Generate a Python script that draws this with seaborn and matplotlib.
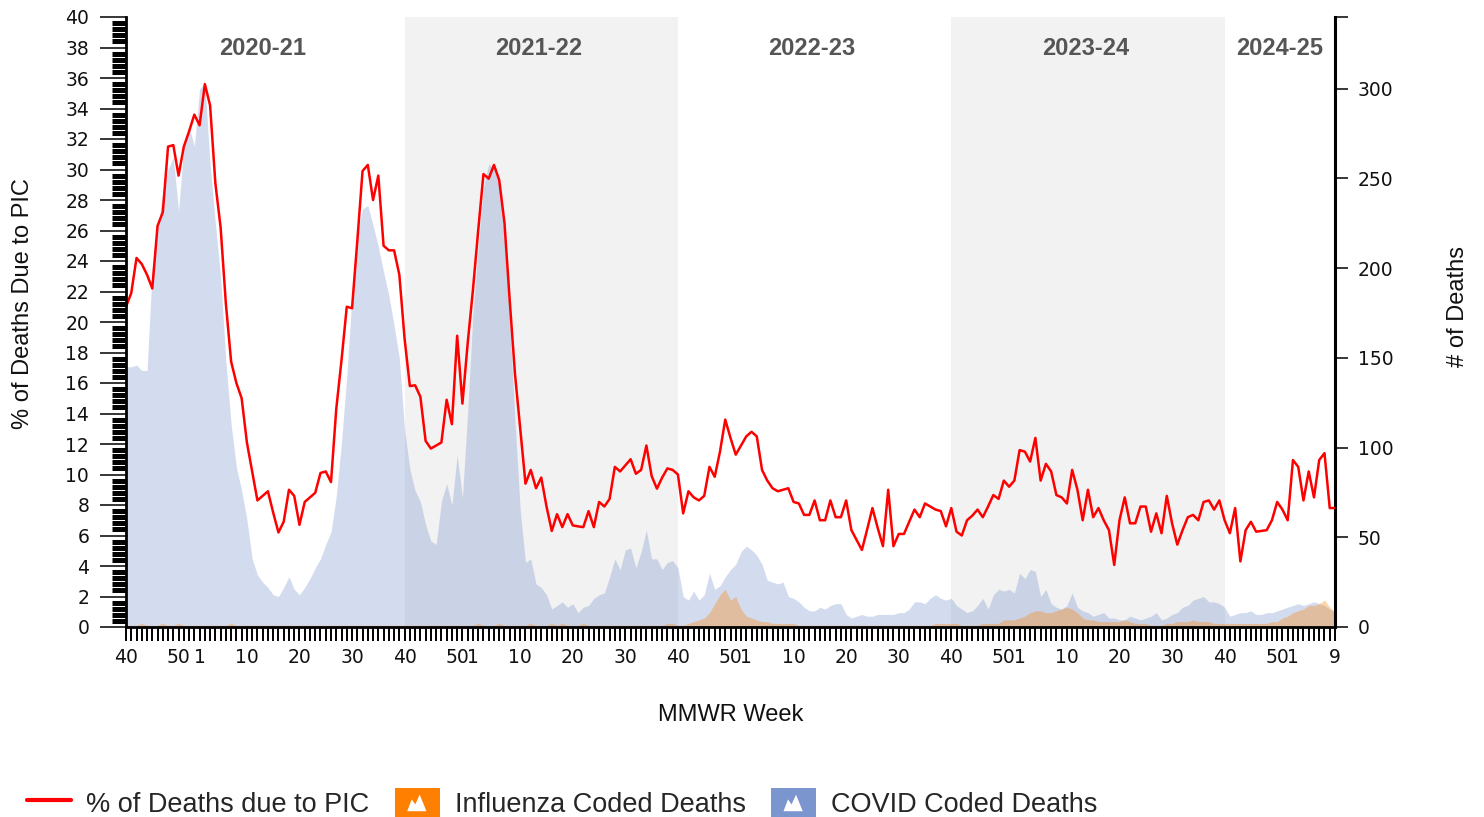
"""
Weekly pneumonia, influenza and COVID-19 (PIC) mortality, 2020-21 to 2024-25.
Red line: % of deaths due to PIC (left axis).
Shaded areas: influenza- and COVID-coded deaths (right axis).
"""

import numpy as np
import pandas as pd
import matplotlib
matplotlib.use("Agg")
import matplotlib.pyplot as plt
import matplotlib.transforms as mtransforms
import seaborn as sns
from matplotlib.ticker import MultipleLocator
from matplotlib.lines import Line2D
from matplotlib.patches import Patch, Rectangle, Polygon
from matplotlib.legend_handler import HandlerBase

# ---- Data ----------------------------------------------------------------

seasons = ["2020-21", "2021-22", "2022-23", "2023-24", "2024-25"]
season_weeks = [53, 52, 52, 52, 22]

pic_pct = [
    # 2020-21
    21.0, 21.9, 24.2, 23.8, 23.1, 22.2, 26.3, 27.2, 31.5, 31.6,
    29.6, 31.5, 32.5, 33.6, 32.9, 35.6, 34.2, 29.1, 26.2, 21.2,
    17.4, 16.0, 15.0, 12.1, 10.2, 8.3, 8.6, 8.9, 7.5, 6.2,
    6.9, 9.0, 8.6, 6.7, 8.2, 8.5, 8.8, 10.1, 10.2, 9.5,
    14.3, 17.5, 21.0, 20.9, 25.3, 29.9, 30.3, 28.0, 29.6, 25.0,
    24.7, 24.7, 23.1,
    # 2021-22
    18.9, 15.8, 15.85, 15.1, 12.2, 11.7, 11.9, 12.1, 14.9, 13.3,
    19.1, 14.65, 18.6, 22.1, 26.0, 29.7, 29.4, 30.3, 29.3, 26.5,
    21.4, 16.6, 13.0, 9.4, 10.3, 9.1, 9.8, 7.9, 6.3, 7.4,
    6.55, 7.4, 6.66, 6.6, 6.55, 7.6, 6.55, 8.2, 7.9, 8.4,
    10.5, 10.2, 10.6, 11.0, 10.05, 10.3, 11.9, 9.9, 9.07, 9.8,
    10.4, 10.3,
    # 2022-23
    10.0, 7.45, 8.9, 8.5, 8.3, 8.6, 10.5, 9.85, 11.5, 13.6,
    12.4, 11.3, 11.9, 12.5, 12.8, 12.5, 10.3, 9.6, 9.1, 8.9,
    9.0, 9.1, 8.2, 8.1, 7.35, 7.35, 8.3, 7.0, 7.0, 8.3,
    7.2, 7.2, 8.3, 6.35, 5.7, 5.05, 6.4, 7.8, 6.5, 5.3,
    9.0, 5.3, 6.1, 6.1, 6.9, 7.7, 7.2, 8.1, 7.9, 7.7,
    7.6, 6.6,
    # 2023-24
    7.8, 6.25, 6.0, 7.0, 7.3, 7.7, 7.2, 7.9, 8.65, 8.4,
    9.6, 9.2, 9.6, 11.6, 11.5, 10.85, 12.4, 9.6, 10.7, 10.2,
    8.65, 8.5, 8.1, 10.3, 9.0, 7.0, 9.0, 7.2, 7.8, 7.0,
    6.35, 4.07, 7.0, 8.5, 6.8, 6.8, 7.9, 7.9, 6.25, 7.45,
    6.15, 8.6, 6.8, 5.4, 6.35, 7.2, 7.35, 7.0, 8.2, 8.3,
    7.7, 8.3,
    # 2024-25
    7.0, 6.15, 7.8, 4.3, 6.35, 6.9, 6.25, 6.3, 6.35, 7.0,
    8.2, 7.7, 7.0, 10.95, 10.5, 8.3, 10.2, 8.5, 10.95, 11.4,
    7.8, 7.8,
]

covid_deaths = [
    # 2020-21
    145, 145, 146, 143, 143, 200, 222, 242, 255, 262,
    232, 268, 279, 268, 300, 303, 258, 225, 195, 148,
    113, 89, 76, 60, 38, 29, 25, 22, 18, 17,
    22, 28, 21, 18, 22, 27, 33, 38, 46, 53,
    73, 103, 140, 185, 220, 233, 235, 224, 212, 198,
    185, 168, 150,
    # 2021-22
    110, 88, 76, 70, 57, 48, 46, 70, 80, 68,
    96, 72, 120, 175, 212, 245, 258, 255, 246, 215,
    170, 115, 65, 36, 38, 24, 22, 18, 10, 12,
    14, 11, 13, 8, 11, 12, 16, 18, 19, 28,
    38, 32, 43, 44, 33, 42, 54, 38, 38, 32,
    36, 37,
    # 2022-23
    33, 17, 15, 20, 15, 18, 30, 21, 23, 28,
    32, 35, 42, 45, 43, 40, 35, 26, 25, 24,
    25, 17, 16, 14, 11, 9, 9, 11, 10, 12,
    13, 13, 7, 5, 6, 7, 6, 6, 7, 7,
    7, 7, 8, 8, 10, 14, 14, 13, 16, 18,
    16, 15,
    # 2023-24
    16, 12, 10, 8, 9, 12, 16, 10, 18, 21,
    20, 21, 19, 30, 27, 32, 31, 17, 21, 13,
    11, 10, 12, 19, 11, 9, 8, 6, 7, 8,
    5, 5, 4, 4, 6, 5, 4, 5, 6, 8,
    4, 5, 7, 8, 11, 12, 15, 16, 17, 14,
    14, 13,
    # 2024-25
    11, 6, 7, 8, 8, 9, 7, 7, 8, 8,
    9, 10, 11, 12, 13, 12, 13, 14, 13, 12,
    10, 9,
]

flu_deaths = [
    # 2020-21
    1, 1, 1, 2, 1, 1, 1, 2, 1, 1,
    2, 1, 1, 1, 1, 1, 1, 1, 1, 1,
    2, 1, 1, 1, 1, 1, 1, 1, 1, 1,
    1, 1, 1, 1, 1, 1, 1, 1, 1, 1,
    1, 1, 1, 1, 1, 1, 1, 1, 1, 1,
    1, 1, 1,
    # 2021-22
    1, 1, 1, 1, 1, 1, 1, 1, 1, 1,
    1, 1, 1, 1, 2, 1, 1, 1, 2, 1,
    1, 1, 1, 1, 2, 1, 1, 1, 2, 1,
    2, 1, 1, 1, 2, 1, 1, 1, 1, 1,
    1, 1, 1, 1, 1, 1, 1, 1, 1, 1,
    2, 2,
    # 2022-23
    1, 1, 2, 3, 4, 5, 8, 13, 18, 21,
    15, 17, 10, 6, 5, 4, 3, 3, 2, 2,
    2, 2, 2, 1, 1, 1, 1, 1, 1, 1,
    1, 1, 1, 1, 1, 1, 1, 1, 1, 1,
    1, 1, 1, 1, 1, 1, 1, 1, 1, 2,
    2, 2,
    # 2023-24
    2, 2, 1, 1, 1, 1, 2, 2, 2, 2,
    4, 4, 4, 5, 6, 8, 9, 9, 8, 8,
    9, 10, 11, 10, 8, 5, 4, 4, 3, 3,
    3, 3, 3, 4, 3, 2, 2, 2, 1, 1,
    1, 2, 2, 3, 3, 3, 4, 3, 3, 3,
    2, 2,
    # 2024-25
    2, 2, 2, 2, 2, 2, 2, 2, 2, 3,
    3, 5, 6, 8, 9, 10, 12, 12, 13, 15,
    11, 8,
]

labelled_weeks = [40, 50, 1, 10, 20, 30]

# ---- Build the weekly table ----------------------------------------------

mmwr_week = []
for n in season_weeks:
    last = 53 if n == 53 else 52
    weeks = list(range(40, last + 1)) + list(range(1, 40))
    mmwr_week += weeks[:n]

df = pd.DataFrame({
    "idx": np.arange(len(mmwr_week)),
    "week": mmwr_week,
    "pic": pic_pct,
    "covid": covid_deaths,
    "flu": flu_deaths,
})

season_start = np.concatenate([[0], np.cumsum(season_weeks)[:-1]])

tick_mask = df["week"].isin(labelled_weeks) | (df["idx"] == df["idx"].max())
tick_pos = df.loc[tick_mask, "idx"].tolist()
tick_lab = df.loc[tick_mask, "week"].astype(str).tolist()

# ---- Plot -----------------------------------------------------------------

sns.set_theme(style="white")
plt.rcParams["font.family"] = ["DejaVu Sans"]

W, H = 1484, 817
fig = plt.figure(figsize=(W / 100, H / 100), dpi=100)
ax = fig.add_axes([126 / W, 1 - 627 / H, (1335 - 126) / W, (627 - 17) / H])
ax2 = ax.twinx()
ax.set_zorder(ax2.get_zorder() + 1)
ax.patch.set_visible(False)

# alternate season shading
for k, (start, n) in enumerate(zip(season_start, season_weeks)):
    if k % 2 == 1:
        ax2.axvspan(start, start + n, color="#f2f2f2", lw=0, zorder=0)

covid_col = "#7b96cf"
flu_col = "#ff8000"
ax2.fill_between(df["idx"], df["covid"], color=covid_col, alpha=0.33, lw=0, zorder=1)
ax2.fill_between(df["idx"], df["flu"], color=flu_col, alpha=0.33, lw=0, zorder=2)

sns.lineplot(data=df, x="idx", y="pic", ax=ax, color="#ff0000", linewidth=1.8)

ax.set_xlim(0, df["idx"].max())
ax.set_ylim(0, 40)
ax2.set_ylim(0, 340)

# season labels
trans = mtransforms.blended_transform_factory(ax.transData, ax.transAxes)
for s, start, n in zip(seasons, season_start, season_weeks):
    ax.text(start + (n - 1) / 2, 0.948, s, transform=trans, ha="center", va="center",
            fontsize=17, fontweight="bold", color="#555555", family="Liberation Sans")

# x axis: one tick per week
ax.set_xticks(tick_pos)
ax.set_xticklabels(tick_lab)
ax.set_xticks(df["idx"], minor=True)
ax.tick_params(axis="x", which="both", bottom=True, direction="out", length=10,
               width=1.4, color="black", pad=5, labelsize=13.5, labelcolor="#111111")

# left axis
ax.set_yticks(np.arange(0, 41, 2))
ax.yaxis.set_minor_locator(MultipleLocator(0.4))
ax.tick_params(axis="y", which="major", left=True, direction="out", length=18.5,
               width=1.1, color="black", pad=8, labelsize=13.5, labelcolor="#111111")
ax.tick_params(axis="y", which="minor", left=True, direction="out", length=10,
               width=3.6, color="black")

# right axis
ax2.set_yticks([0, 50, 100, 150, 200, 250, 300, 340])
ax2.set_yticklabels(["0", "50", "100", "150", "200", "250", "300", ""])
ax2.tick_params(axis="y", which="major", right=True, left=False, direction="out",
                length=9.5, width=1.1, color="black", pad=7, labelsize=13.5,
                labelcolor="#111111")

for side in ["top", "right"]:
    ax.spines[side].set_visible(False)
for side in ["top", "left", "bottom"]:
    ax2.spines[side].set_visible(False)
ax.spines["left"].set_color("black")
ax.spines["left"].set_linewidth(2)
ax.spines["bottom"].set_color("black")
ax.spines["bottom"].set_linewidth(2)
ax2.spines["right"].set_color("black")
ax2.spines["right"].set_linewidth(2.2)

label_font = dict(fontsize=17, family="Liberation Sans", color="#111111")
ax.set_xlabel("MMWR Week", **label_font)
ax.xaxis.set_label_coords(0.5, -0.126)
ax.set_ylabel("% of Deaths Due to PIC", **label_font)
ax.yaxis.set_label_coords(-0.0757, 0.53)
ax2.set_ylabel("# of Deaths", **label_font)
ax2.yaxis.set_label_coords(1.093, 0.525)
ax2.grid(False)
ax.grid(False)


# legend: coloured box with a small white "mountain" icon
class MountainHandler(HandlerBase):
    def create_artists(self, legend, orig_handle, xdescent, ydescent, width, height,
                       fontsize, trans):
        x0, y0 = -xdescent, -ydescent
        box = Rectangle((x0, y0), width, height, facecolor=orig_handle.get_facecolor(),
                        edgecolor="none", transform=trans)
        pts = [(x0 + 0.27 * width, y0 + 0.22 * height),
               (x0 + 0.37 * width, y0 + 0.62 * height),
               (x0 + 0.45 * width, y0 + 0.45 * height),
               (x0 + 0.55 * width, y0 + 0.78 * height),
               (x0 + 0.70 * width, y0 + 0.22 * height)]
        icon = Polygon(pts, closed=True, facecolor="white", edgecolor="none",
                       transform=trans)
        return [box, icon]


handles = [
    Line2D([], [], color="#ff0000", lw=3),
    Patch(facecolor=flu_col),
    Patch(facecolor=covid_col),
]
labels = ["% of Deaths due to PIC", "Influenza Coded Deaths", "COVID Coded Deaths"]
fig.legend(handles, labels, loc="center left", bbox_to_anchor=(0.018, 0.017),
           ncol=3, frameon=False, handler_map={Patch: MountainHandler()},
           prop={"family": "Liberation Sans", "size": 19.5},
           handlelength=1.65, handleheight=1.3, handletextpad=0.55,
           columnspacing=0.95, borderpad=0, borderaxespad=0)

fig.savefig("out.png", dpi=100)
